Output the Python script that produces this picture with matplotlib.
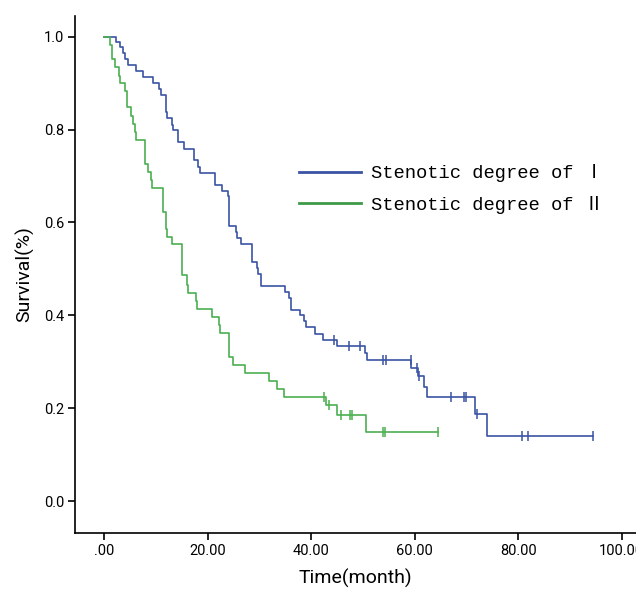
import numpy as np
import matplotlib.pyplot as plt

# Kaplan-Meier curves: time (month) of each drop and survival after it
time_1 = [2.26, 3.04, 3.68, 3.95, 4.58, 6.07, 7.43, 9.42, 10.52, 10.97, 11.88, 12.13,
          13.04, 13.35, 14.20, 15.42, 17.41, 18.07, 18.57, 21.41, 22.71, 23.87, 24.06,
          24.18, 25.42, 25.61, 26.44, 28.51, 29.48, 29.67, 30.31, 34.95, 35.73, 36.11,
          37.85, 38.63, 39.01, 40.70, 42.36, 44.95, 50.48, 50.87, 59.27, 60.70, 61.84,
          62.36, 71.70, 73.97]
surv_1 = [0.989, 0.978, 0.965, 0.951, 0.939, 0.926, 0.914, 0.900, 0.887, 0.875, 0.837,
          0.824, 0.810, 0.798, 0.773, 0.759, 0.734, 0.720, 0.707, 0.681, 0.668, 0.657,
          0.643, 0.593, 0.579, 0.567, 0.554, 0.515, 0.501, 0.489, 0.464, 0.451, 0.438,
          0.412, 0.400, 0.387, 0.374, 0.360, 0.348, 0.335, 0.319, 0.304, 0.287, 0.269,
          0.246, 0.224, 0.187, 0.140]
cens_1 = [44.33, 47.39, 49.46, 53.91, 54.49, 59.20, 60.40, 60.90, 67.06, 69.63, 69.96,
          72.03, 80.70, 81.95, 94.39]

time_2 = [1.10, 1.49, 2.07, 2.79, 3.04, 4.06, 4.33, 5.22, 5.49, 5.88, 6.07, 7.87, 8.36,
          8.94, 9.23, 11.26, 11.84, 12.19, 13.04, 15.09, 15.94, 16.25, 17.74, 17.99,
          20.77, 22.24, 22.44, 24.18, 24.80, 27.25, 31.91, 33.46, 34.82, 42.88, 44.95,
          50.62]
surv_2 = [0.983, 0.951, 0.934, 0.916, 0.900, 0.882, 0.848, 0.830, 0.813, 0.795, 0.778,
          0.726, 0.709, 0.692, 0.674, 0.622, 0.586, 0.568, 0.554, 0.486, 0.466, 0.449,
          0.432, 0.414, 0.397, 0.380, 0.363, 0.311, 0.294, 0.276, 0.259, 0.242, 0.225,
          0.207, 0.185, 0.148]
cens_2 = [42.55, 43.52, 45.78, 47.43, 47.91, 53.97, 54.35, 64.60]

labels = ['Stenotic degree of \u2160', 'Stenotic degree of \u2161']
colors = ['#3b53a4', '#4caf50']
legend_colors = ['#3b53a4', '#3d9a47']


def km_path(times, surv, end):
    x = np.concatenate([[0.0], times, [end]])
    y = np.concatenate([[1.0], surv, [surv[-1]]])
    return x, y


def surv_at(times, surv, t):
    idx = np.searchsorted(times, t, side='right') - 1
    return np.where(idx >= 0, np.asarray(surv)[np.clip(idx, 0, None)], 1.0)


fig = plt.figure(figsize=(6.36, 5.94), dpi=100)
ax = fig.add_axes([0.118, 0.1035, 0.882, 0.87])

curves = [(time_1, surv_1, cens_1), (time_2, surv_2, cens_2)]
for (tt, ss, cc), col, lab in zip(curves, colors, labels):
    x, y = km_path(tt, ss, max(cc))
    ax.step(x, y, where='post', color=col, linewidth=1.2)
    ax.plot(cc, surv_at(tt, ss, cc), linestyle='none', marker='|',
            markersize=7, markeredgewidth=1.1, color=col)

# legend handles
handles = [plt.Line2D([], [], color=c, linewidth=2) for c in legend_colors]
leg = ax.legend(handles, labels, loc='upper left', bbox_to_anchor=(0.37, 0.745),
                frameon=False, handlelength=3.3, handletextpad=0.5, labelspacing=0.7,
                prop={'family': ['Liberation Mono', 'Noto Sans CJK SC'], 'size': 13.5})

ax.set_xlim(-5.67, 102.8)
ax.set_ylim(-0.0673, 1.045)
ax.set_xticks([0, 20, 40, 60, 80, 100])
ax.set_xticklabels(['.00', '20.00', '40.00', '60.00', '80.00', '100.00'])
ax.set_yticks([0.0, 0.2, 0.4, 0.6, 0.8, 1.0])
ax.set_yticklabels(['0.0', '0.2', '0.4', '0.6', '0.8', '1.0'])

tick_font = ['Roboto', 'DejaVu Sans']
for lbl in ax.get_xticklabels() + ax.get_yticklabels():
    lbl.set_family(tick_font)
    lbl.set_fontsize(10.5)
ax.tick_params(direction='out', length=5, width=1.2, pad=3)

ax.spines['top'].set_visible(False)
ax.spines['right'].set_visible(False)
ax.spines['left'].set_linewidth(1.2)
ax.spines['bottom'].set_linewidth(1.2)

ax.set_xlabel('Time(month)', fontsize=14, family=tick_font, labelpad=8)
ax.set_ylabel('Survival(%)', fontsize=14, family=tick_font, labelpad=7)

fig.savefig('out.png', dpi=100)
